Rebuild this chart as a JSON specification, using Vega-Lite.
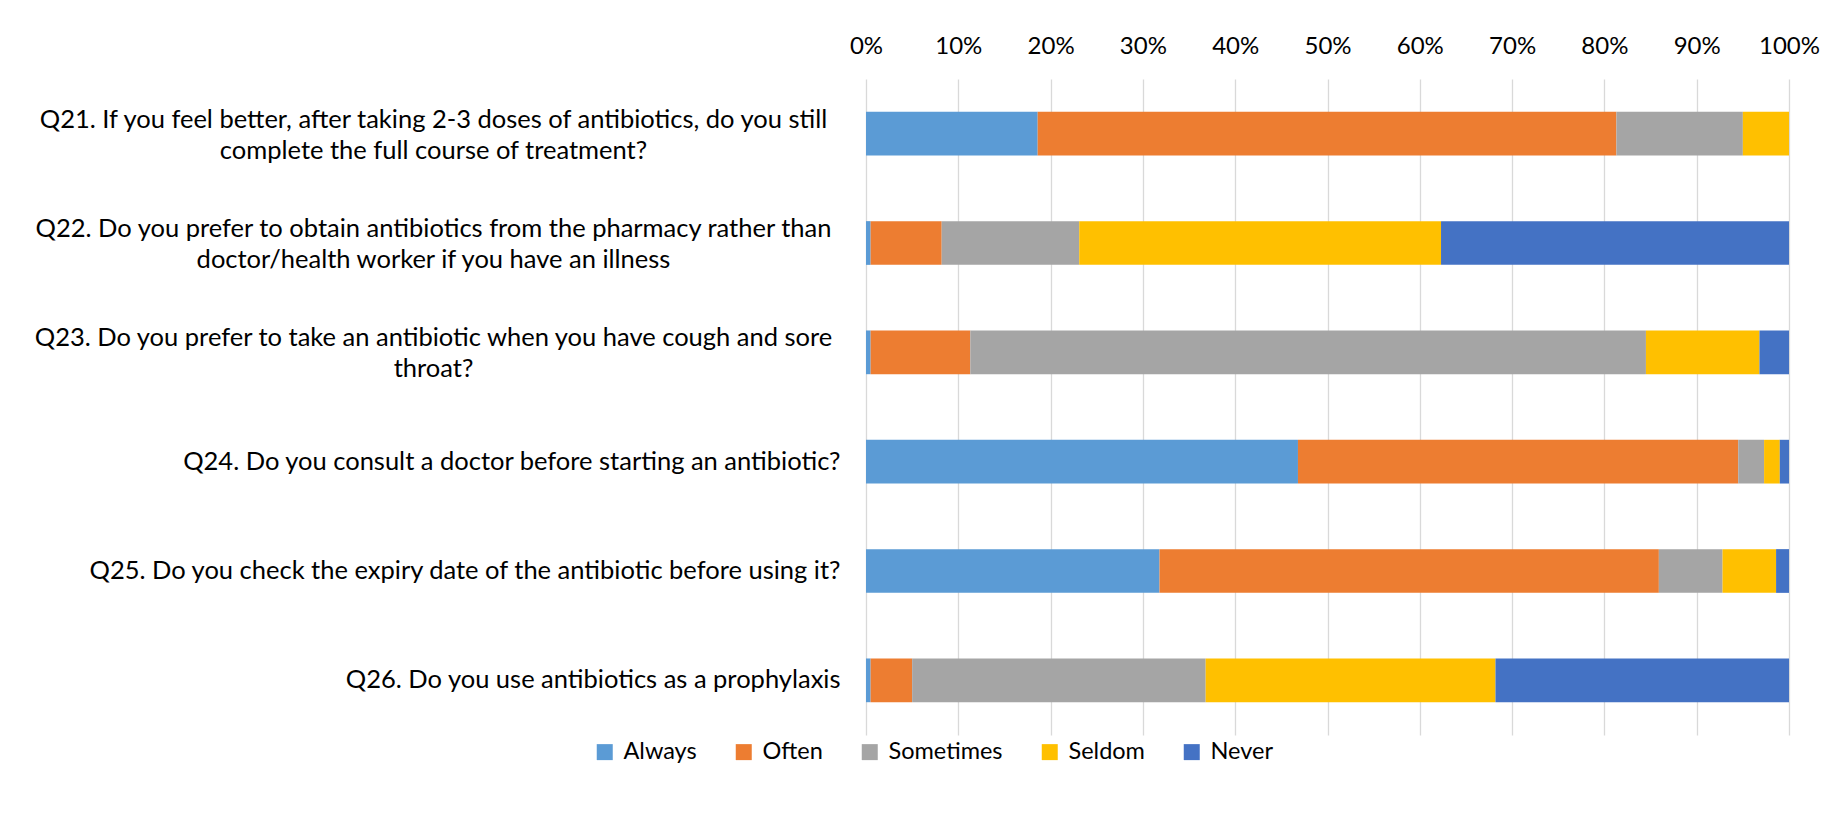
{
  "$schema": "https://vega.github.io/schema/vega-lite/v6.json",
  "autosize": {"type": "none"},
  "padding": {"left": 866, "top": 79, "right": 47, "bottom": 89},
  "width": 923,
  "height": 656,
  "background": "white",
  "config": {
    "font": "Lato",
    "view": {"stroke": null}
  },
  "data": {
    "values": [
      {"question": "Q21. If you feel better, after taking 2-3 doses of antibiotics, do you still\ncomplete the full course of treatment?", "response": "Always", "rank": 1, "pct": 18.6},
      {"question": "Q21. If you feel better, after taking 2-3 doses of antibiotics, do you still\ncomplete the full course of treatment?", "response": "Often", "rank": 2, "pct": 62.7},
      {"question": "Q21. If you feel better, after taking 2-3 doses of antibiotics, do you still\ncomplete the full course of treatment?", "response": "Sometimes", "rank": 3, "pct": 13.7},
      {"question": "Q21. If you feel better, after taking 2-3 doses of antibiotics, do you still\ncomplete the full course of treatment?", "response": "Seldom", "rank": 4, "pct": 5.0},
      {"question": "Q21. If you feel better, after taking 2-3 doses of antibiotics, do you still\ncomplete the full course of treatment?", "response": "Never", "rank": 5, "pct": 0},
      {"question": "Q22. Do you prefer to obtain antibiotics from the pharmacy rather than\ndoctor/health worker if you have an illness", "response": "Always", "rank": 1, "pct": 0.5},
      {"question": "Q22. Do you prefer to obtain antibiotics from the pharmacy rather than\ndoctor/health worker if you have an illness", "response": "Often", "rank": 2, "pct": 7.7},
      {"question": "Q22. Do you prefer to obtain antibiotics from the pharmacy rather than\ndoctor/health worker if you have an illness", "response": "Sometimes", "rank": 3, "pct": 14.9},
      {"question": "Q22. Do you prefer to obtain antibiotics from the pharmacy rather than\ndoctor/health worker if you have an illness", "response": "Seldom", "rank": 4, "pct": 39.2},
      {"question": "Q22. Do you prefer to obtain antibiotics from the pharmacy rather than\ndoctor/health worker if you have an illness", "response": "Never", "rank": 5, "pct": 37.7},
      {"question": "Q23. Do you prefer to take an antibiotic when you have cough and sore\nthroat?", "response": "Always", "rank": 1, "pct": 0.5},
      {"question": "Q23. Do you prefer to take an antibiotic when you have cough and sore\nthroat?", "response": "Often", "rank": 2, "pct": 10.8},
      {"question": "Q23. Do you prefer to take an antibiotic when you have cough and sore\nthroat?", "response": "Sometimes", "rank": 3, "pct": 73.2},
      {"question": "Q23. Do you prefer to take an antibiotic when you have cough and sore\nthroat?", "response": "Seldom", "rank": 4, "pct": 12.3},
      {"question": "Q23. Do you prefer to take an antibiotic when you have cough and sore\nthroat?", "response": "Never", "rank": 5, "pct": 3.2},
      {"question": "Q24. Do you consult a doctor before starting an antibiotic?", "response": "Always", "rank": 1, "pct": 46.8},
      {"question": "Q24. Do you consult a doctor before starting an antibiotic?", "response": "Often", "rank": 2, "pct": 47.7},
      {"question": "Q24. Do you consult a doctor before starting an antibiotic?", "response": "Sometimes", "rank": 3, "pct": 2.8},
      {"question": "Q24. Do you consult a doctor before starting an antibiotic?", "response": "Seldom", "rank": 4, "pct": 1.7},
      {"question": "Q24. Do you consult a doctor before starting an antibiotic?", "response": "Never", "rank": 5, "pct": 1.0},
      {"question": "Q25. Do you check the expiry date of the antibiotic before using it?", "response": "Always", "rank": 1, "pct": 31.8},
      {"question": "Q25. Do you check the expiry date of the antibiotic before using it?", "response": "Often", "rank": 2, "pct": 54.1},
      {"question": "Q25. Do you check the expiry date of the antibiotic before using it?", "response": "Sometimes", "rank": 3, "pct": 6.9},
      {"question": "Q25. Do you check the expiry date of the antibiotic before using it?", "response": "Seldom", "rank": 4, "pct": 5.8},
      {"question": "Q25. Do you check the expiry date of the antibiotic before using it?", "response": "Never", "rank": 5, "pct": 1.4},
      {"question": "Q26. Do you use antibiotics as a prophylaxis", "response": "Always", "rank": 1, "pct": 0.5},
      {"question": "Q26. Do you use antibiotics as a prophylaxis", "response": "Often", "rank": 2, "pct": 4.5},
      {"question": "Q26. Do you use antibiotics as a prophylaxis", "response": "Sometimes", "rank": 3, "pct": 31.8},
      {"question": "Q26. Do you use antibiotics as a prophylaxis", "response": "Seldom", "rank": 4, "pct": 31.4},
      {"question": "Q26. Do you use antibiotics as a prophylaxis", "response": "Never", "rank": 5, "pct": 31.8}
    ]
  },
  "mark": {"type": "bar"},
  "encoding": {
    "y": {
      "field": "question",
      "type": "nominal",
      "sort": null,
      "scale": {"paddingInner": 0.6, "paddingOuter": 0.3},
      "axis": {
        "title": null,
        "ticks": false,
        "domain": false,
        "labelLimit": 0,
        "labelFont": "Lato",
        "labelFontSize": 25.5,
        "labelColor": "#000000",
        "labelLineHeight": 31,
        "labelExpr": "split(datum.value, '\\n')",
        "labelAlign": {"condition": {"test": "indexof(datum.value, '\\n') >= 0", "value": "center"}, "value": "right"},
        "labelPadding": {"condition": {"test": "indexof(datum.value, '\\n') >= 0", "value": 433}, "value": 26},
        "labelOffset": {"condition": {"test": "indexof(datum.value, '\\n') >= 0", "value": -14}, "value": 0}
      }
    },
    "x": {
      "field": "pct",
      "type": "quantitative",
      "stack": "normalize",
      "scale": {"domain": [0, 1]},
      "axis": {
        "orient": "top",
        "title": null,
        "format": ".0%",
        "values": [0, 0.1, 0.2, 0.3, 0.4, 0.5, 0.6, 0.7, 0.8, 0.9, 1],
        "grid": true,
        "gridColor": "#D9D9D9",
        "gridWidth": 1.3,
        "domain": false,
        "ticks": false,
        "labelFont": "Lato",
        "labelFontSize": 24,
        "labelColor": "#000000",
        "labelPadding": 21,
        "labelFlush": false,
        "labelOverlap": false
      }
    },
    "color": {
      "field": "response",
      "type": "nominal",
      "sort": ["Always", "Often", "Sometimes", "Seldom", "Never"],
      "scale": {
        "domain": ["Always", "Often", "Sometimes", "Seldom", "Never"],
        "range": ["#5B9BD5", "#ED7D31", "#A5A5A5", "#FFC000", "#4472C4"]
      },
      "legend": {
        "title": null,
        "orient": "none",
        "direction": "horizontal",
        "legendX": -273,
        "legendY": 661,
        "symbolType": "square",
        "symbolSize": 256,
        "symbolStrokeWidth": 0,
        "symbolOpacity": 1,
        "labelFont": "Lato",
        "labelFontSize": 23.5,
        "labelColor": "#000000",
        "labelOffset": 7,
        "columnPadding": 35,
        "padding": 0
      }
    },
    "order": {"field": "rank", "type": "quantitative", "sort": "ascending"}
  }
}
